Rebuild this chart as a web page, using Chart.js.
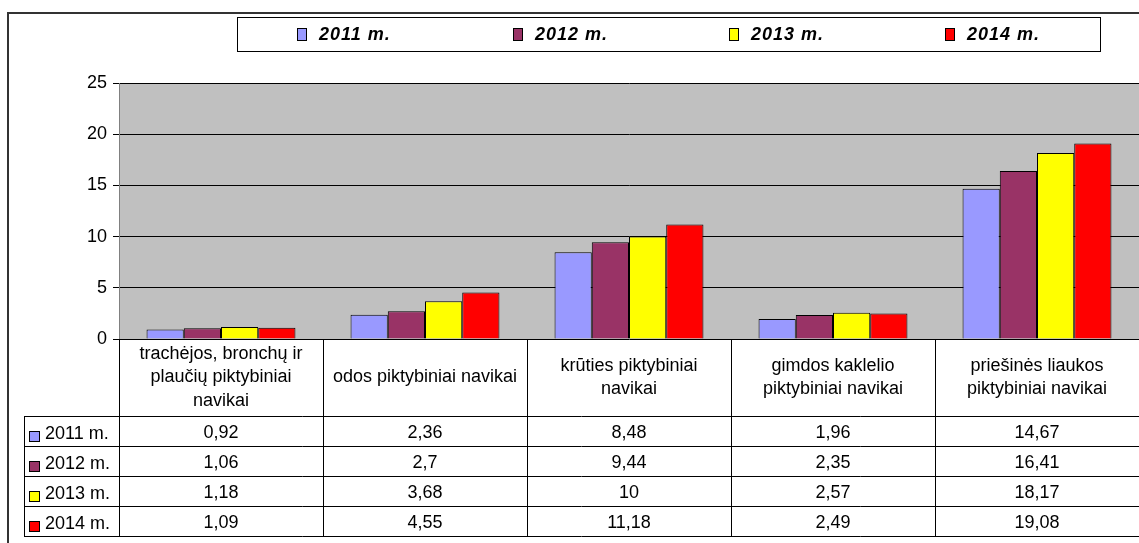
<!DOCTYPE html>
<html>
<head>
<meta charset="utf-8">
<script src="https://cdn.jsdelivr.net/npm/chart.js"></script>
<style>
  body { margin: 0; background: #fff; }
  canvas { display: block; }
</style>
</head>
<body>
<canvas id="chart" width="1139" height="543"></canvas>
<script>
  // data
  const categories = [
    ['trachėjos, bronchų ir', 'plaučių piktybiniai', 'navikai'],
    ['odos piktybiniai navikai'],
    ['krūties piktybiniai', 'navikai'],
    ['gimdos kaklelio', 'piktybiniai navikai'],
    ['priešinės liaukos', 'piktybiniai navikai']
  ];
  const seriesNames = ['2011 m.', '2012 m.', '2013 m.', '2014 m.'];
  const values2011 = [0.92, 2.36, 8.48, 1.96, 14.67];
  const values2012 = [1.06, 2.7, 9.44, 2.35, 16.41];
  const values2013 = [1.18, 3.68, 10, 2.57, 18.17];
  const values2014 = [1.09, 4.55, 11.18, 2.49, 19.08];
  const yTicks = [0, 5, 10, 15, 20, 25];
  const colors = ['#9999FF', '#993366', '#FFFF00', '#FF0000'];

  const allValues = [values2011, values2012, values2013, values2014];
  const FONT = '"Liberation Sans", Arial, sans-serif';

  function fmt(v) {
    return String(v).replace('.', ',');
  }

  // gray plot area, legend box and the data table under the axis
  const excelPlugin = {
    id: 'excelTable',
    beforeDraw(chart) {
      const { ctx, chartArea: a } = chart;
      ctx.save();
      ctx.fillStyle = '#C0C0C0';
      ctx.fillRect(a.left, a.top, a.right - a.left, a.bottom - a.top);
      ctx.restore();
    },
    afterDraw(chart) {
      const { ctx, chartArea: a } = chart;
      const xs = chart.scales.x;
      const colW = (a.right - a.left) / categories.length;
      const headTop = a.bottom;
      const rowTop = 416, rowH = 30, tableLeft = 24;
      const tableBottom = rowTop + rowH * seriesNames.length;

      ctx.save();

      // outer frame
      ctx.strokeStyle = '#333';
      ctx.lineWidth = 2;
      ctx.beginPath();
      ctx.moveTo(8, 543);
      ctx.lineTo(8, 13);
      ctx.lineTo(1139, 13);
      ctx.stroke();

      // table lines
      ctx.strokeStyle = '#000';
      ctx.lineWidth = 1;
      ctx.beginPath();
      for (let i = 0; i <= categories.length; i++) {
        const px = Math.round(a.left + i * colW) + 0.5;
        ctx.moveTo(px, headTop);
        ctx.lineTo(px, tableBottom);
      }
      ctx.moveTo(tableLeft + 0.5, rowTop);
      ctx.lineTo(tableLeft + 0.5, tableBottom);
      for (let r = 0; r <= seriesNames.length; r++) {
        const py = rowTop + r * rowH + 0.5;
        ctx.moveTo(tableLeft, py);
        ctx.lineTo(a.right, py);
      }
      ctx.stroke();

      // header labels
      ctx.fillStyle = '#000';
      ctx.font = '18px ' + FONT;
      ctx.textAlign = 'center';
      ctx.textBaseline = 'middle';
      const headMid = (headTop + rowTop) / 2;
      categories.forEach((lines, i) => {
        const cx = xs.getPixelForValue(i);
        const lh = 23.5;
        lines.forEach((ln, k) => {
          ctx.fillText(ln, cx, headMid + (k - (lines.length - 1) / 2) * lh);
        });
      });

      // rows
      seriesNames.forEach((name, r) => {
        const cy = rowTop + r * rowH + rowH / 2;
        ctx.fillStyle = colors[r];
        ctx.fillRect(30, cy + 1, 9, 9);
        ctx.strokeStyle = '#000';
        ctx.strokeRect(29.5, cy + 0.5, 10, 10);
        ctx.fillStyle = '#000';
        ctx.textAlign = 'left';
        ctx.fillText(name, 45, cy + 3);
        ctx.textAlign = 'center';
        allValues[r].forEach((v, i) => {
          ctx.fillText(fmt(v), xs.getPixelForValue(i), cy + 2);
        });
      });

      // legend
      ctx.fillStyle = '#fff';
      ctx.fillRect(237, 17, 863, 34);
      ctx.strokeStyle = '#000';
      ctx.strokeRect(237.5, 17.5, 863, 34);
      ctx.font = 'italic bold 18px ' + FONT;
      ctx.letterSpacing = '1px';
      ctx.textAlign = 'left';
      seriesNames.forEach((name, i) => {
        const sx = 297 + i * 216;
        ctx.fillStyle = colors[i];
        ctx.fillRect(sx, 28, 9, 12);
        ctx.strokeStyle = '#000';
        ctx.strokeRect(sx + 0.5, 28.5, 9, 12);
        ctx.fillStyle = '#000';
        ctx.fillText(name, sx + 22, 35);
      });

      ctx.restore();
    }
  };

  const ctx = document.getElementById('chart').getContext('2d');
  new Chart(ctx, {
    type: 'bar',
    data: {
      labels: categories,
      datasets: seriesNames.map((name, i) => ({
        label: name,
        data: allValues[i],
        backgroundColor: colors[i],
        borderColor: '#000',
        borderWidth: 1,
        categoryPercentage: 0.73,
        barPercentage: 1.0
      }))
    },
    options: {
      responsive: false,
      animation: false,
      layout: {
        padding: { top: 83, bottom: 204, left: 0, right: 0 }
      },
      plugins: {
        legend: { display: false },
        tooltip: { enabled: false }
      },
      scales: {
        x: {
          display: false
        },
        y: {
          min: yTicks[0],
          max: yTicks[yTicks.length - 1],
          afterFit(scale) { scale.width = 119; },
          afterBuildTicks(scale) {
            scale.ticks = yTicks.map(v => ({ value: v }));
          },
          ticks: {
            color: '#000',
            padding: 6,
            font: { family: FONT, size: 18 }
          },
          grid: {
            color: '#000',
            lineWidth: 1,
            tickLength: 6,
            tickColor: '#000'
          },
          border: { color: '#808080', width: 1 }
        }
      }
    },
    plugins: [excelPlugin]
  });
</script>
</body>
</html>
